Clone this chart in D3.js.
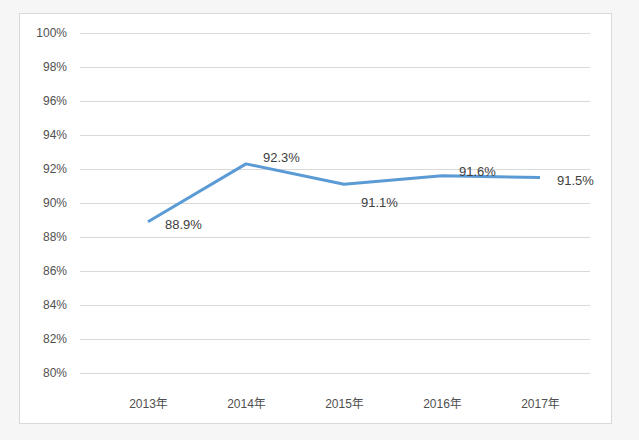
<!DOCTYPE html>
<html><head><meta charset="utf-8">
<script src="https://cdn.jsdelivr.net/npm/d3@7"></script>
<style>
body{margin:0;background:#f6f6f6;}
svg{display:block;}
</style></head>
<body><svg id="c" width="639" height="440"></svg>
<script>
const categories = ["2013年","2014年","2015年","2016年","2017年"];
const values = [88.9, 92.3, 91.1, 91.6, 91.5];
const yTicks = [80,82,84,86,88,90,92,94,96,98,100];
const labelPos = ["right","above","below","onLine","right"];

const svg = d3.select("#c");
svg.append("rect").attr("x",19.5).attr("y",13.5).attr("width",592).attr("height",410)
  .attr("fill","#fff").attr("stroke","#d9d9d9");

const x = d3.scalePoint().domain(categories).range([148,540]);
const y = d3.scaleLinear().domain([80,100]).range([373,33]);
const font = "'Liberation Sans', 'Noto Sans CJK SC', sans-serif";

const yAxis = d3.axisLeft(y).tickValues(yTicks).tickFormat(d=>d+"%").tickSize(-510).tickPadding(13);
const gy = svg.append("g").attr("transform","translate(80,0)").call(yAxis);
gy.select(".domain").remove();
gy.selectAll(".tick line").attr("stroke","#d9d9d9").attr("stroke-width",1);
gy.selectAll(".tick text").attr("fill","#505050").attr("font-size",12).attr("font-family",font);

const xAxis = d3.axisBottom(x).tickSize(0).tickPadding(18);
const gx = svg.append("g").attr("transform","translate(0,381)").call(xAxis);
gx.select(".domain").remove();
gx.selectAll(".tick text").attr("fill","#505050").attr("font-size",12).attr("font-family",font);

const line = d3.line().x((d,i)=>x(categories[i])).y(d=>y(d));
svg.append("path").datum(values).attr("d",line).attr("fill","none")
  .attr("stroke","#5b9bd5").attr("stroke-width",3).attr("stroke-linejoin","round");

const dyFor = {right:7, above:-2, below:23, onLine:0};
svg.selectAll(".lbl").data(values).enter().append("text")
  .attr("x",(d,i)=>x(categories[i])+17)
  .attr("y",(d,i)=>y(d)+dyFor[labelPos[i]])
  .attr("text-anchor","start")
  .attr("fill","#404040").attr("font-size",13).attr("font-family",font)
  .text(d=>d.toFixed(1)+"%");
</script></body></html>
